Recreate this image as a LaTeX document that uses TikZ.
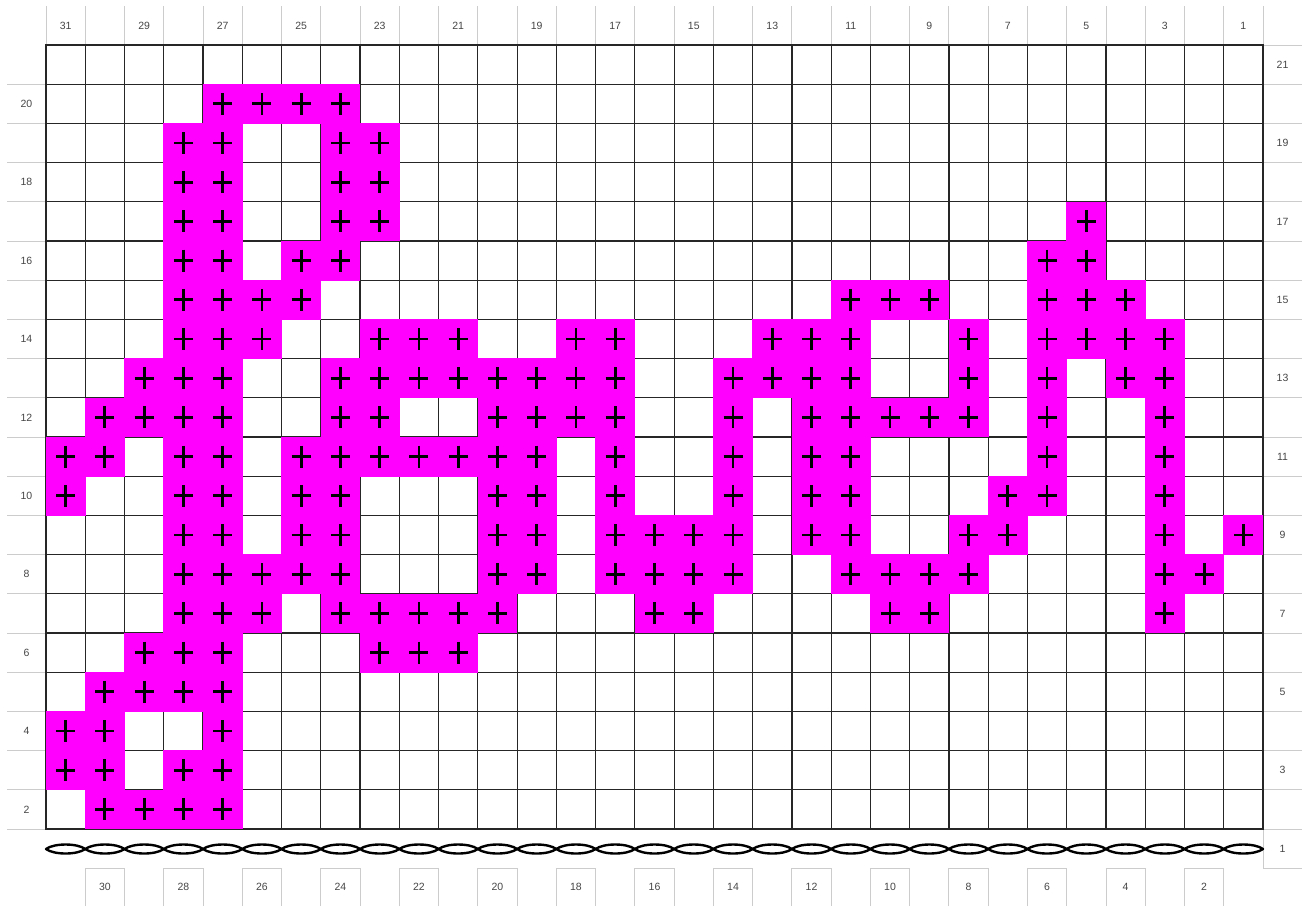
\documentclass[tikz,border=0pt]{standalone}
\usepackage{fontspec}
\setmainfont{Liberation Sans}
\usetikzlibrary{calc}
\definecolor{stitchpink}{RGB}{255,0,255}
\definecolor{rulegrey}{RGB}{204,204,204}
\definecolor{numgrey}{RGB}{70,70,70}

\begin{document}
\begin{tikzpicture}[x=1pt, y=-1pt,
  cell/.style={draw=black!85, line width=1.2pt},
  sc/.style={black, line width=2.8pt},
  chain/.style={draw=black, line width=2.4pt, fill=white, line join=round},
  rulegrid/.style={draw=rulegrey, line width=0.9pt},
  num/.style={font=\fontsize{10.5}{12}\selectfont, text=numgrey, inner sep=0pt}
]
\def\cw{39.258}
\def\ch{39.2}
\useasboundingbox[fill=white] (0,0) rectangle (1302,906);

% number guides
\foreach \k in {0,...,31}
  \draw[rulegrid] ({46+\k*\cw},6) -- ({46+\k*\cw},45);
\foreach \k in {1,...,20}
  \draw[rulegrid] (7,{45+\k*\ch}) -- (46,{45+\k*\ch});
\foreach \k in {0,...,21}
  \draw[rulegrid] (1263,{45+\k*\ch}) -- (1302,{45+\k*\ch});
\draw[rulegrid] (1263,829) -- (1263,868.2);
\foreach \c in {30,28,...,2}
  \draw[rulegrid] ({46+(31-\c)*\cw},906) |- ({46+(32-\c)*\cw},868.2) -- ++(0,37.8);

% grid
\foreach \i in {0,...,30}
  \foreach \k in {0,...,19}
    \draw[cell] ({46+\i*\cw},{45+\k*\ch}) rectangle ++(\cw,\ch);

% single crochet cells
\foreach \r/\cols in {20/{4,5,6,7}, 19/{3,4,7,8}, 18/{3,4,7,8}, 17/{3,4,7,8,26},
    16/{3,4,6,7,25,26}, 15/{3,4,5,6,20,21,22,25,26,27},
    14/{3,4,5,8,9,10,13,14,18,19,20,23,25,26,27,28},
    13/{2,3,4,7,8,9,10,11,12,13,14,17,18,19,20,23,25,27,28},
    12/{1,2,3,4,7,8,11,12,13,14,17,19,20,21,22,23,25,28},
    11/{0,1,3,4,6,7,8,9,10,11,12,14,17,19,20,25,28},
    10/{0,3,4,6,7,11,12,14,17,19,20,24,25,28},
    9/{3,4,6,7,11,12,14,15,16,17,19,20,23,24,28,30},
    8/{3,4,5,6,7,11,12,14,15,16,17,20,21,22,23,28,29},
    7/{3,4,5,7,8,9,10,11,15,16,21,22,28},
    6/{2,3,4,8,9,10}, 5/{1,2,3,4}, 4/{0,1,4}, 3/{0,1,3,4}, 2/{1,2,3,4}}
  \foreach \i in \cols {
    \fill[stitchpink] ({46+\i*\cw-0.3},{45+(21-\r)*\ch-0.3}) rectangle ++({\cw+0.6},{\ch+0.6});
    \draw[sc] ({46+(\i+0.5)*\cw},{45+(21.5-\r)*\ch-11}) -- ++(0,22);
    \draw[sc] ({46+(\i+0.5)*\cw-9.5},{45+(21.5-\r)*\ch}) -- ++(19,0);
  }

% chain row
\foreach \i in {0,...,30}
  \draw[chain] ({46+\i*\cw},849)
    .. controls ({46+\i*\cw+8},843) and ({46+(\i+1)*\cw-8},843) .. ({46+(\i+1)*\cw},849)
    .. controls ({46+(\i+1)*\cw-8},855) and ({46+\i*\cw+8},855) .. cycle;

% numbers
\foreach \c in {31,29,...,1}
  \node[num] (col\c) at ({46+(31.5-\c)*\cw},25.5) {\c};
\foreach \c in {30,28,...,2}
  \node[num] (base\c) at ({46+(31.5-\c)*\cw},887) {\c};
\foreach \r in {20,18,...,2}
  \node[num] (rowL\r) at (26.5,{45+(21.5-\r)*\ch}) {\r};
\foreach \r in {21,19,...,1}
  \node[num] (rowR\r) at (1282.5,{45+(21.5-\r)*\ch}) {\r};
\end{tikzpicture}
\end{document}
